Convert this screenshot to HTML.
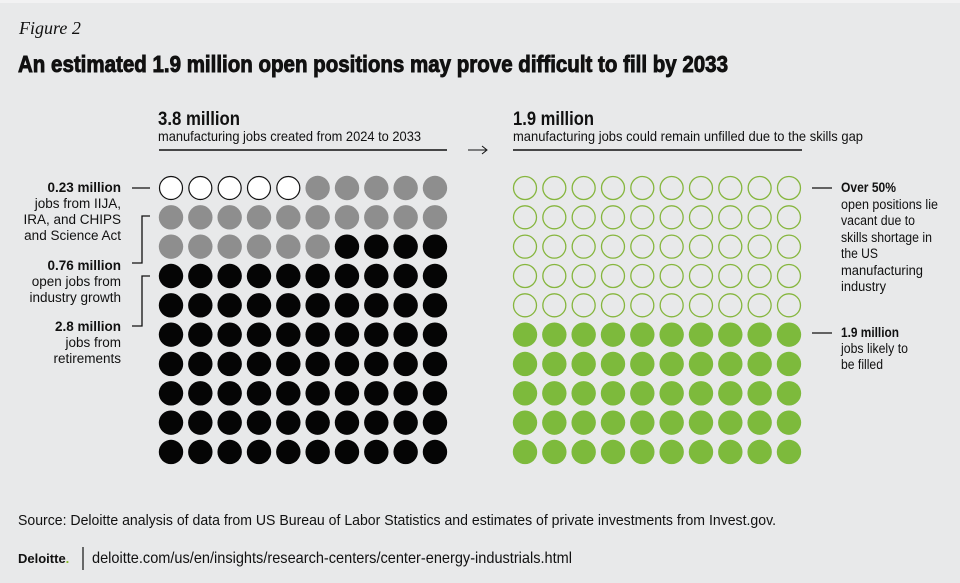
<!DOCTYPE html>
<html><head><meta charset="utf-8"><style>
html,body{margin:0;padding:0;background:#e8e9ea;}
svg{display:block}
text{font-family:"Liberation Sans Narrow","Liberation Sans",sans-serif;fill:#111}
</style></head><body>
<svg width="960" height="583" viewBox="0 0 960 583" xmlns="http://www.w3.org/2000/svg">
<rect width="960" height="583" fill="#e8e9ea"/>
<rect width="960" height="3" fill="#f2f2f3"/>
<text x="19" y="34" style="font-family:'Liberation Serif',serif;font-style:italic;font-size:18px">Figure 2</text>
<text x="18" y="72" font-size="23" font-weight="bold" textLength="710" lengthAdjust="spacingAndGlyphs" style="font-family:'Liberation Sans',sans-serif;font-weight:900" stroke="#111" stroke-width="0.9">An estimated 1.9 million open positions may prove difficult to fill by 2033</text>

<text x="158" y="125" font-size="19" font-weight="bold" textLength="82" lengthAdjust="spacingAndGlyphs">3.8 million</text>
<text x="158" y="141" font-size="14" textLength="263" lengthAdjust="spacingAndGlyphs">manufacturing jobs created from 2024 to 2033</text>
<line x1="159" y1="150" x2="447" y2="150" stroke="#111" stroke-width="1.5"/>
<line x1="468" y1="150" x2="486" y2="150" stroke="#111" stroke-width="1"/>
<path d="M482 146 L487 150 L482 154" fill="none" stroke="#111" stroke-width="1"/>

<text x="513" y="125" font-size="19" font-weight="bold" textLength="81" lengthAdjust="spacingAndGlyphs">1.9 million</text>
<text x="513" y="141" font-size="14" textLength="350" lengthAdjust="spacingAndGlyphs">manufacturing jobs could remain unfilled due to the skills gap</text>
<line x1="513" y1="150" x2="802" y2="150" stroke="#111" stroke-width="1.5"/>

<g id="dots"></g>

<g font-size="13.5" text-anchor="end">
<text x="121" y="192" font-weight="bold">0.23 million</text>
<text x="121" y="208">jobs from IIJA,</text>
<text x="121" y="224">IRA, and CHIPS</text>
<text x="121" y="240">and Science Act</text>
<text x="121" y="270" font-weight="bold">0.76 million</text>
<text x="121" y="286">open jobs from</text>
<text x="121" y="302">industry growth</text>
<text x="121" y="331" font-weight="bold">2.8 million</text>
<text x="121" y="347">jobs from</text>
<text x="121" y="363">retirements</text>
</g>
<g stroke="#111" stroke-width="1.3" fill="none">
<line x1="132" y1="188" x2="150" y2="188"/>
<path d="M150 216 H142 V263 H132"/>
<path d="M150 276 H142 V326 H132"/>
<line x1="812" y1="188" x2="832" y2="188"/>
<line x1="812" y1="333" x2="832" y2="333"/>
</g>
<g font-size="13.5">
<text x="841" y="192" font-weight="bold" textLength="55" lengthAdjust="spacingAndGlyphs">Over 50%</text>
<text x="841" y="209" textLength="97" lengthAdjust="spacingAndGlyphs">open positions lie</text>
<text x="841" y="225" textLength="74" lengthAdjust="spacingAndGlyphs">vacant due to</text>
<text x="841" y="242" textLength="91" lengthAdjust="spacingAndGlyphs">skills shortage in</text>
<text x="841" y="258" textLength="37" lengthAdjust="spacingAndGlyphs">the US</text>
<text x="841" y="275" textLength="82" lengthAdjust="spacingAndGlyphs">manufacturing</text>
<text x="841" y="291" textLength="45" lengthAdjust="spacingAndGlyphs">industry</text>
<text x="841" y="337" font-weight="bold" textLength="58" lengthAdjust="spacingAndGlyphs">1.9 million</text>
<text x="841" y="353" textLength="67" lengthAdjust="spacingAndGlyphs">jobs likely to</text>
<text x="841" y="369" textLength="42" lengthAdjust="spacingAndGlyphs">be filled</text>
</g>

<text x="18" y="525" font-size="15" textLength="758" lengthAdjust="spacingAndGlyphs">Source: Deloitte analysis of data from US Bureau of Labor Statistics and estimates of private investments from Invest.gov.</text>
<text x="18" y="563" font-size="13" font-weight="bold" style="font-family:'Liberation Sans',sans-serif;font-weight:900">Deloitte<tspan fill="#86bc25">.</tspan></text>
<line x1="83" y1="547" x2="83" y2="570" stroke="#111" stroke-width="1.2"/>
<text x="92" y="563" font-size="16" textLength="480" lengthAdjust="spacingAndGlyphs">deloitte.com/us/en/insights/research-centers/center-energy-industrials.html</text>
</svg>
<script>
(function(){
var g=document.getElementById('dots'),p=29.33,s='';
for(var r=0;r<10;r++)for(var c=0;c<10;c++){
 var i=r*10+c,cy=188+r*p,cx=171+c*p,cx2=525+c*p;
 if(i<5)s+='<circle cx="'+cx+'" cy="'+cy+'" r="11.5" fill="#fff" stroke="#111" stroke-width="1.2"/>';
 else if(i<26)s+='<circle cx="'+cx+'" cy="'+cy+'" r="12.2" fill="#8e8e8e"/>';
 else s+='<circle cx="'+cx+'" cy="'+cy+'" r="12.2" fill="#050505"/>';
 if(r<5)s+='<circle cx="'+cx2+'" cy="'+cy+'" r="11.5" fill="none" stroke="#86b63e" stroke-width="1.3"/>';
 else s+='<circle cx="'+cx2+'" cy="'+cy+'" r="12.2" fill="#7dba3c"/>';
}
g.innerHTML=s;
})();
</script>
</body></html>
